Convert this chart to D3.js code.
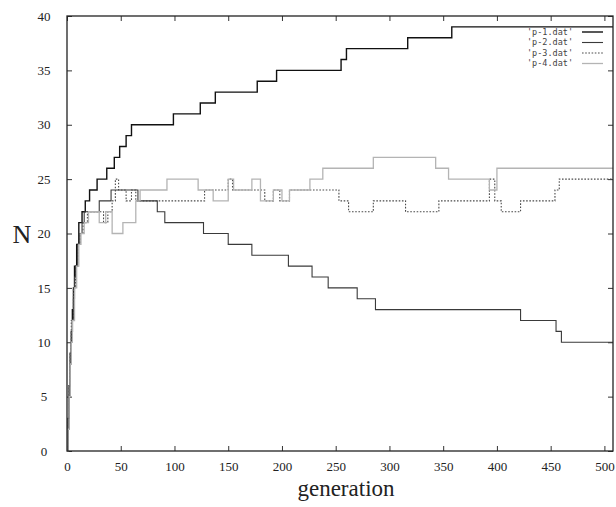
<!DOCTYPE html>
<html>
<head>
<meta charset="utf-8">
<script src="https://cdn.jsdelivr.net/npm/d3@7"></script>
<style>
  html, body { margin: 0; padding: 0; background: #fff; }
  svg { display: block; }
</style>
</head>
<body>
<svg id="chart" width="616" height="507"></svg>
<script>
// step change points: [generation, N]
const p1Steps = [
  [0, 0], [1, 3], [2, 6], [3, 9], [4, 11], [5, 13], [6, 15], [7, 17], [9, 19], [11, 21],
  [14, 22], [17, 23], [21, 24], [28, 25], [37, 26], [44, 27], [49, 28], [55, 29], [60, 30],
  [99, 31], [124, 32], [138, 33], [177, 34], [195, 35], [255, 36], [260, 37], [317, 38],
  [358, 39], [508, 39],
];
const p2Steps = [
  [0, 0], [1, 2], [2, 5], [3, 8], [4, 10], [5, 12], [6, 14], [7, 16], [8, 17], [10, 19],
  [12, 20], [14, 21], [16, 22], [30, 23], [41, 24], [66, 23], [84, 22], [91, 21], [127, 20],
  [150, 19], [172, 18], [206, 17], [228, 16], [243, 15], [270, 14], [287, 13], [422, 12],
  [455, 11], [460, 10], [508, 10],
];
const p3Steps = [
  [0, 0], [1, 3], [2, 6], [3, 9], [4, 12], [6, 15], [8, 17], [10, 19], [12, 20], [15, 21],
  [19, 22], [34, 21], [38, 22], [42, 23], [45, 25], [48, 24], [55, 23], [60, 24], [64, 23],
  [128, 24], [150, 25], [154, 24], [184, 23], [192, 24], [198, 23], [207, 24], [253, 23],
  [262, 22], [285, 23], [315, 22], [346, 23], [393, 25], [398, 23], [404, 22], [422, 23],
  [454, 24], [458, 25], [508, 25],
];
const p4Steps = [
  [0, 0], [1, 2], [2, 5], [3, 8], [4, 10], [5, 12], [7, 15], [9, 17], [11, 19], [13, 20],
  [16, 21], [20, 22], [30, 21], [36, 22], [42, 20], [52, 21], [64, 23], [68, 24], [93, 25],
  [122, 24], [136, 23], [150, 25], [155, 24], [172, 25], [180, 23], [192, 24], [200, 23],
  [207, 24], [226, 25], [238, 26], [285, 27], [343, 26], [355, 25], [393, 24], [400, 26],
  [508, 26],
];

const seriesNames = ["'p-1.dat'", "'p-2.dat'", "'p-3.dat'", "'p-4.dat'"];
const xTicks = [0, 50, 100, 150, 200, 250, 300, 350, 400, 450, 500];
const yTicks = [0, 5, 10, 15, 20, 25, 30, 35, 40];

const series = [
  {name: seriesNames[0], steps: p1Steps, stroke: '#111', width: 1.4, dash: null},
  {name: seriesNames[1], steps: p2Steps, stroke: '#3a3a3a', width: 1.1, dash: null},
  {name: seriesNames[2], steps: p3Steps, stroke: '#4a4a4a', width: 1.1, dash: '1.6,1.6'},
  {name: seriesNames[3], steps: p4Steps, stroke: '#b4b4b4', width: 1.3, dash: null},
];

const svg = d3.select('#chart');
const plot = {left: 67, right: 613, top: 16, bottom: 451};

// the frame runs a little past 500 generations
const x = d3.scaleLinear().domain([0, 508]).range([plot.left, plot.right]);
const y = d3.scaleLinear().domain([0, 40]).range([plot.bottom, plot.top]);

const serif = '"Liberation Serif", "DejaVu Serif", serif';

// inward ticks on all four sides
svg.append('g')
  .attr('transform', `translate(0,${plot.bottom})`)
  .call(d3.axisBottom(x).tickValues(xTicks).tickSize(-5).tickPadding(11))
  .call((g) => g.select('.domain').remove())
  .call((g) => g.selectAll('text').attr('font-family', serif).attr('font-size', 13).attr('fill', '#222'));

svg.append('g')
  .attr('transform', `translate(0,${plot.top})`)
  .call(d3.axisTop(x).tickValues(xTicks).tickSize(-5).tickFormat(''))
  .call((g) => g.select('.domain').remove());

const yAxis = svg.append('g')
  .attr('transform', `translate(${plot.left},0)`)
  .call(d3.axisLeft(y).tickValues(yTicks).tickSize(-5).tickPadding(23))
  .call((g) => g.select('.domain').remove());
yAxis.selectAll('text')
  .attr('text-anchor', 'middle')
  .attr('font-family', serif).attr('font-size', 13).attr('fill', '#222');

svg.append('g')
  .attr('transform', `translate(${plot.right},0)`)
  .call(d3.axisRight(y).tickValues(yTicks).tickSize(-5).tickFormat(''))
  .call((g) => g.select('.domain').remove());

svg.selectAll('.tick line').attr('stroke', '#333');

// data lines
const line = d3.line()
  .x((d) => x(d[0]))
  .y((d) => y(d[1]))
  .curve(d3.curveStepAfter);

svg.append('g')
  .selectAll('path')
  .data(series)
  .join('path')
  .attr('d', (d) => line(d.steps))
  .attr('fill', 'none')
  .attr('stroke', (d) => d.stroke)
  .attr('stroke-width', (d) => d.width)
  .attr('stroke-dasharray', (d) => d.dash);

// frame
svg.append('rect')
  .attr('x', plot.left).attr('y', plot.top)
  .attr('width', plot.right - plot.left).attr('height', plot.bottom - plot.top)
  .attr('fill', 'none').attr('stroke', '#222').attr('stroke-width', 1.3);

// legend
const legend = svg.append('g')
  .selectAll('g')
  .data(series)
  .join('g')
  .attr('transform', (d, i) => `translate(0,${32 + i * 10.5})`);

legend.append('text')
  .attr('x', 573)
  .attr('dy', '0.35em')
  .attr('text-anchor', 'end')
  .attr('font-family', '"DejaVu Sans Mono", "Liberation Mono", monospace')
  .attr('font-size', 8.5)
  .attr('fill', '#444')
  .text((d) => d.name);

legend.append('line')
  .attr('x1', 582).attr('x2', 603)
  .attr('stroke', (d) => d.stroke)
  .attr('stroke-width', (d) => d.width)
  .attr('stroke-dasharray', (d) => d.dash);

// axis titles
svg.append('text')
  .attr('x', 22).attr('y', 234)
  .attr('dy', '0.35em')
  .attr('text-anchor', 'middle')
  .attr('font-family', serif).attr('font-size', 26).attr('fill', '#222')
  .text('N');

svg.append('text')
  .attr('x', 346).attr('y', 496)
  .attr('text-anchor', 'middle')
  .attr('font-family', serif).attr('font-size', 23).attr('fill', '#222')
  .text('generation');
</script>
</body>
</html>
